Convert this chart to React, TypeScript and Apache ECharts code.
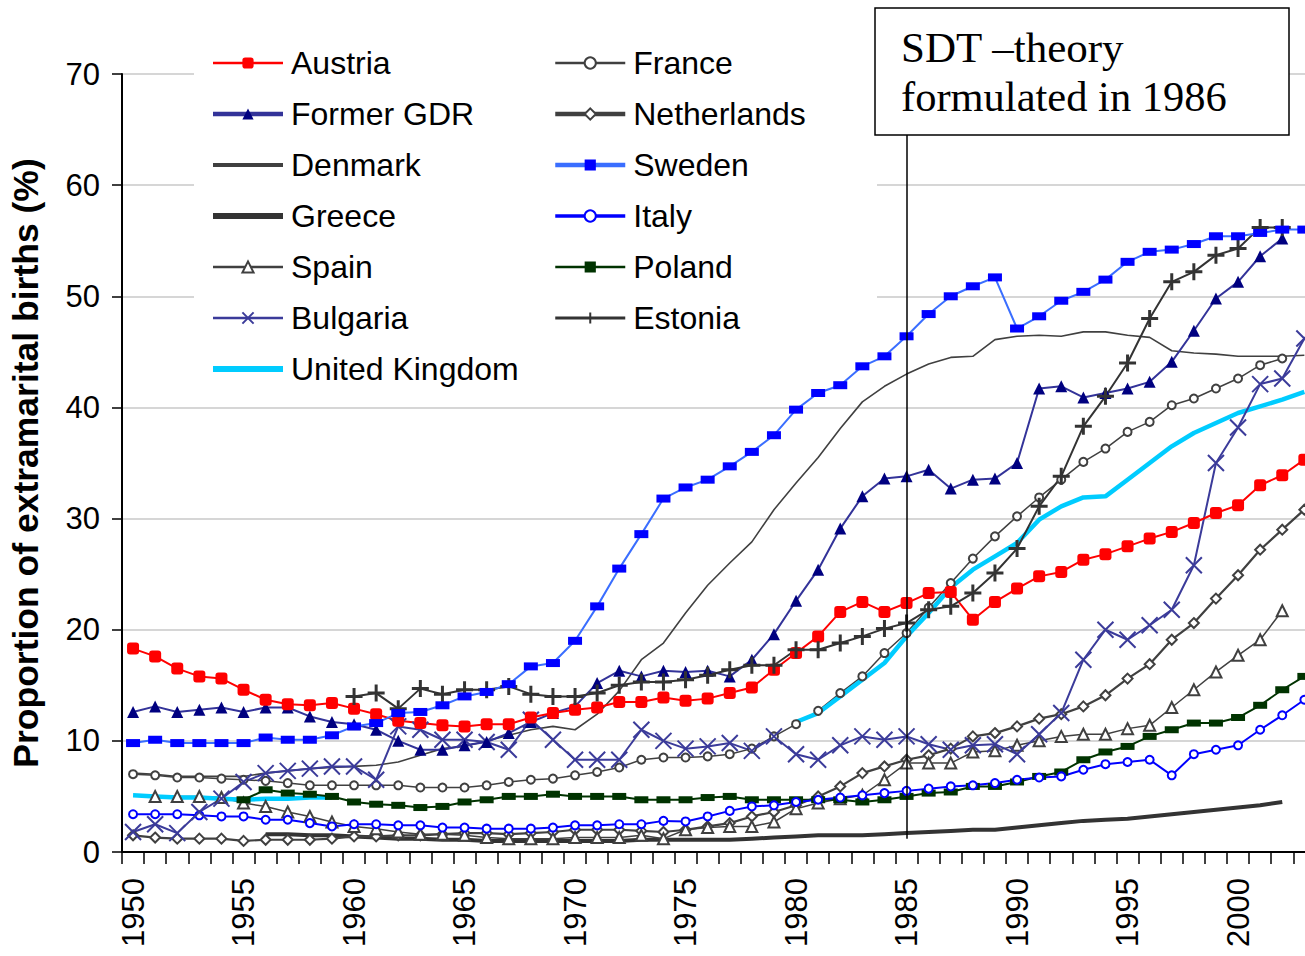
import React, { useEffect, useRef } from "react";
import * as echarts from "echarts";

const years = [
  "1950", "1951", "1952", "1953", "1954", "1955", "1956", "1957", "1958", "1959",
  "1960", "1961", "1962", "1963", "1964", "1965", "1966", "1967", "1968", "1969",
  "1970", "1971", "1972", "1973", "1974", "1975", "1976", "1977", "1978", "1979",
  "1980", "1981", "1982", "1983", "1984", "1985", "1986", "1987", "1988", "1989",
  "1990", "1991", "1992", "1993", "1994", "1995", "1996", "1997", "1998", "1999",
  "2000", "2001", "2002", "2003",
];

const austria = [
  18.3, 17.6, 16.5, 15.8, 15.6, 14.6, 13.7, 13.3, 13.2, 13.4,
  12.9, 12.4, 11.8, 11.6, 11.4, 11.3, 11.5, 11.5, 12.1, 12.5,
  12.8, 13.0, 13.5, 13.5, 13.9, 13.6, 13.8, 14.3, 14.8, 16.4,
  17.9, 19.4, 21.6, 22.5, 21.6, 22.4, 23.3, 23.4, 20.9, 22.5,
  23.7, 24.8, 25.2, 26.3, 26.8, 27.5, 28.2, 28.8, 29.6, 30.5,
  31.2, 33.0, 33.9, 35.3,
];
const formerGDR = [
  12.6, 13.1, 12.6, 12.8, 13.0, 12.6, 13.0, 13.0, 12.2, 11.7,
  11.5, 11.0, 10.0, 9.2, 9.2, 9.6, 9.9, 10.7, 11.7, 12.5,
  13.1, 15.2, 16.3, 15.8, 16.3, 16.2, 16.3, 15.8, 17.3, 19.6,
  22.6, 25.4, 29.1, 32.0, 33.6, 33.8, 34.4, 32.7, 33.5, 33.6,
  35.0, 41.7, 41.9, 40.9, 41.3, 41.7, 42.3, 44.1, 46.9, 49.8,
  51.3, 53.6, 55.2, null,
];
const denmark = [
  7.1, 7.0, 6.8, 6.8, 6.8, 6.8, 7.1, 7.3, 7.5, 7.6,
  7.7, 7.8, 8.1, 8.7, 9.3, 9.5, 10.0, 10.5, 11.0, 11.3,
  11.0, 12.4, 14.5, 17.3, 18.8, 21.5, 24.0, 26.0, 27.9, 30.8,
  33.2, 35.5, 38.1, 40.5, 41.9, 43.0, 43.9, 44.5, 44.6, 46.1,
  46.4, 46.5, 46.4, 46.8, 46.8, 46.5, 46.3, 45.1, 44.9, 44.8,
  44.6, 44.6, 44.6, 44.7,
];
const greece = [
  null, null, null, null, null, null, 1.6, 1.6, 1.5, 1.5,
  1.4, 1.3, 1.2, 1.2, 1.1, 1.1, 1.0, 1.0, 1.0, 1.0,
  1.0, 1.0, 1.0, 1.1, 1.1, 1.1, 1.1, 1.1, 1.2, 1.3,
  1.4, 1.5, 1.5, 1.5, 1.6, 1.7, 1.8, 1.9, 2.0, 2.0,
  2.2, 2.4, 2.6, 2.8, 2.9, 3.0, 3.2, 3.4, 3.6, 3.8,
  4.0, 4.2, 4.5, null,
];
const spain = [
  null, 5.0, 5.0, 5.0, 4.9, 4.4, 4.1, 3.6, 3.2, 2.7,
  2.3, 2.1, 1.8, 1.6, 1.6, 1.5, 1.3, 1.2, 1.2, 1.2,
  1.3, 1.3, 1.3, 1.5, 1.2, 2.0, 2.2, 2.3, 2.3, 2.7,
  3.9, 4.4, 4.8, 5.1, 6.5, 8.0, 8.0, 8.0, 9.0, 9.1,
  9.6, 10.0, 10.4, 10.6, 10.6, 11.1, 11.4, 13.0, 14.6, 16.2,
  17.7, 19.1, 21.7, null,
];
const bulgaria = [
  1.8, 2.5, 1.7, 3.6, 4.8, 6.3, 7.1, 7.3, 7.5, 7.7,
  7.7, 6.5, 11.3, 11.0, 10.1, 10.1, 9.9, 9.2, 11.9, 10.1,
  8.3, 8.3, 8.3, 11.0, 10.0, 9.3, 9.5, 9.8, 9.1, 10.4,
  8.8, 8.3, 9.6, 10.4, 10.1, 10.4, 9.7, 9.2, 9.6, 9.7,
  8.8, 10.6, 12.5, 17.3, 20.0, 19.1, 20.4, 21.8, 25.8, 35.0,
  38.2, 42.1, 42.6, 46.2,
];
const unitedKingdom = [
  5.1, 5.0, 4.9, 4.9, 4.8, 4.7, 4.8, 4.8, 4.9, 4.9,
  null, null, null, null, null, null, null, null, null, null,
  null, null, null, null, null, null, null, null, null, null,
  11.7, 12.5, 14.0, 15.5, 17.0, 19.4, 21.5, 23.8, 25.4, 26.6,
  27.8, 29.9, 31.1, 31.9, 32.0, 33.5, 35.0, 36.5, 37.7, 38.6,
  39.5, 40.1, 40.7, 41.4,
];
const france = [
  7.0, 6.9, 6.7, 6.7, 6.6, 6.5, 6.4, 6.2, 6.0, 6.0,
  6.0, 6.0, 6.0, 5.8, 5.8, 5.8, 6.0, 6.3, 6.5, 6.6,
  6.9, 7.2, 7.6, 8.3, 8.5, 8.5, 8.6, 8.8, 9.3, 10.4,
  11.5, 12.7, 14.3, 15.8, 17.9, 19.7, 22.0, 24.2, 26.4, 28.4,
  30.2, 31.9, 33.5, 35.1, 36.3, 37.8, 38.7, 40.2, 40.8, 41.7,
  42.6, 43.8, 44.4, null,
];
const netherlands = [
  1.5, 1.3, 1.2, 1.2, 1.2, 1.0, 1.1, 1.1, 1.1, 1.2,
  1.4, 1.4, 1.5, 1.5, 1.6, 1.7, 1.7, 1.6, 1.7, 1.8,
  2.0, 2.0, 2.0, 1.9, 1.8, 2.0, 2.3, 2.6, 3.2, 3.6,
  4.2, 5.0, 5.9, 7.1, 7.7, 8.3, 8.7, 9.3, 10.4, 10.7,
  11.3, 12.0, 12.4, 13.1, 14.1, 15.6, 16.9, 19.1, 20.6, 22.8,
  24.9, 27.2, 29.0, 30.8,
];
const sweden = [
  9.8, 10.1, 9.8, 9.8, 9.8, 9.8, 10.3, 10.1, 10.1, 10.5,
  11.3, 11.6, 12.5, 12.6, 13.2, 14.0, 14.4, 15.1, 16.7, 17.0,
  19.0, 22.1, 25.5, 28.6, 31.8, 32.8, 33.5, 34.7, 36.0, 37.5,
  39.8, 41.3, 42.0, 43.7, 44.6, 46.4, 48.4, 50.0, 50.9, 51.7,
  47.1, 48.2, 49.6, 50.4, 51.5, 53.1, 54.0, 54.2, 54.7, 55.4,
  55.4, 55.7, 56.0, 56.0,
];
const italy = [
  3.4, 3.4, 3.4, 3.3, 3.2, 3.2, 2.9, 2.9, 2.6, 2.3,
  2.5, 2.5, 2.4, 2.4, 2.2, 2.2, 2.1, 2.1, 2.1, 2.2,
  2.4, 2.4, 2.5, 2.5, 2.8, 2.75, 3.2, 3.7, 4.1, 4.2,
  4.5, 4.7, 4.9, 5.1, 5.3, 5.5, 5.7, 5.9, 6.0, 6.2,
  6.5, 6.7, 6.8, 7.4, 7.9, 8.1, 8.3, 6.9, 8.8, 9.2,
  9.6, 11.0, 12.3, 13.7,
];
const poland = [
  null, null, null, null, null, 4.7, 5.6, 5.3, 5.2, 5.0,
  4.5, 4.3, 4.2, 4.0, 4.1, 4.5, 4.7, 5.0, 5.0, 5.2,
  5.0, 5.0, 5.0, 4.7, 4.7, 4.7, 4.9, 5.0, 4.7, 4.7,
  4.7, 4.7, 4.7, 4.5, 4.7, 5.0, 5.3, 5.4, 5.9, 5.9,
  6.3, 6.8, 7.2, 8.3, 9.0, 9.5, 10.4, 11.0, 11.6, 11.6,
  12.1, 13.2, 14.6, 15.8,
];
const estonia = [
  null, null, null, null, null, null, null, null, null, null,
  14.0, 14.3, 12.9, 14.7, 14.2, 14.6, 14.6, 14.9, 14.2, 14.0,
  14.0, 14.3, 15.0, 15.3, 15.3, 15.5, 15.9, 16.4, 16.8, 16.8,
  18.2, 18.2, 18.8, 19.4, 20.1, 20.6, 21.8, 22.1, 23.3, 25.1,
  27.3, 31.1, 33.8, 38.3, 41.0, 44.0, 48.0, 51.3, 52.2, 53.7,
  54.3, 56.2, 56.2, null,
];

const legendLeft = ["Austria", "Former GDR", "Denmark", "Greece", "Spain", "Bulgaria", "United Kingdom"];
const legendRight = ["France", "Netherlands", "Sweden", "Italy", "Poland", "Estonia"];

const sdtLines = ["SDT \u2013theory", "formulated in 1986"];
const sdtYear = "1985";

const FONT = 'Arial, "Liberation Sans", Helvetica, sans-serif';
const SERIF = '"Times New Roman", "Liberation Serif", serif';
const GREY = "#404040";

const CROSS = "path://M0,0L10,10M10,0L0,10";
const PLUS = "path://M5,0L5,10M0,5L10,5";

// legend line widths and whether a marker is drawn in the legend icon
const legendLine: Record<string, { w: number; marker: boolean }> = {
  Austria: { w: 2.5, marker: true },
  "Former GDR": { w: 4.5, marker: true },
  Denmark: { w: 4, marker: false },
  Greece: { w: 6, marker: false },
  Spain: { w: 2.5, marker: true },
  Bulgaria: { w: 2.5, marker: true },
  "United Kingdom": { w: 6, marker: false },
  France: { w: 2.5, marker: true },
  Netherlands: { w: 4.5, marker: true },
  Sweden: { w: 4.5, marker: true },
  Italy: { w: 3.5, marker: true },
  Poland: { w: 2.5, marker: true },
  Estonia: { w: 3, marker: true },
};

export default function App() {
  const ref = useRef<HTMLDivElement>(null);

  useEffect(() => {
    document.documentElement.style.overflow = "hidden";
    document.body.style.overflow = "hidden";
    if (!ref.current) return;
    const chart = echarts.init(ref.current, null, { renderer: "svg" });

    const line = (
      name: string,
      data: (number | null)[],
      lineColor: string,
      width: number,
      symbol: string,
      symbolSize: number | number[],
      itemStyle: any
    ) => ({
      name,
      type: "line",
      data,
      symbol,
      symbolSize,
      showSymbol: symbol !== "none",
      showAllSymbol: true,
      connectNulls: false,
      lineStyle: { color: lineColor, width },
      itemStyle,
      emphasis: { disabled: true },
    });

    const series: any[] = [
      line("Denmark", denmark, GREY, 1.6, "none", 0, { color: GREY }),
      line("Greece", greece, "#333333", 4, "none", 0, { color: "#333333" }),
      line("Netherlands", netherlands, GREY, 2.2, "emptyDiamond", 10, { color: GREY, borderWidth: 1.5 }),
      line("France", france, GREY, 1.5, "emptyCircle", 8, { color: GREY, borderWidth: 1.5 }),
      line("Spain", spain, GREY, 1.5, "emptyTriangle", 11, { color: GREY, borderWidth: 1.5 }),
      line("United Kingdom", unitedKingdom, "#00CCFF", 4.5, "none", 0, { color: "#00CCFF" }),
      line("Poland", poland, "#003300", 2, "rect", [14, 7], { color: "#003300" }),
      line("Italy", italy, "#0000FF", 2, "emptyCircle", 8, { color: "#0000FF", borderWidth: 2.5 }),
      line("Bulgaria", bulgaria, "#3B3B9A", 2, CROSS, 16, {
        color: "transparent",
        borderColor: "#3B3B9A",
        borderWidth: 2,
      }),
      line("Former GDR", formerGDR, "#333399", 2, "triangle", 12, { color: "#000080" }),
      line("Austria", austria, "#FF0000", 2, "roundRect", 12, { color: "#FF0000" }),
      line("Estonia", estonia, "#333333", 2, PLUS, 17, {
        color: "transparent",
        borderColor: "#333333",
        borderWidth: 3,
      }),
      {
        ...line("Sweden", sweden, "#3A6EFF", 2, "rect", [14, 8], { color: "#0000FF" }),
        markLine: {
          silent: true,
          symbol: ["none", "none"],
          label: { show: false },
          lineStyle: { color: "#000", width: 1.5, type: "solid" },
          emphasis: { disabled: true },
          data: [[{ coord: [sdtYear, 1.2] }, { coord: [sdtYear, 64.6] }]],
        },
      },
    ];

    const legendItems = (names: string[]) =>
      names.map((n) => {
        const cfg = legendLine[n];
        const item: any = { name: n, lineStyle: { width: cfg.w } };
        if (!cfg.marker) item.itemStyle = { opacity: 0 };
        return item;
      });

    const legendBase = {
      orient: "vertical",
      top: 45,
      padding: 0,
      itemWidth: 70,
      itemHeight: 14,
      itemGap: 15,
      selectedMode: false,
      textStyle: {
        fontSize: 32,
        lineHeight: 36,
        color: "#000",
        fontFamily: FONT,
        padding: [0, 0, 0, 3],
      },
    };

    chart.setOption({
      animation: false,
      backgroundColor: "#fff",
      textStyle: { fontFamily: FONT },
      grid: { left: 122, top: 74, width: 1193.4, height: 778, containLabel: false },
      xAxis: {
        type: "category",
        data: years,
        boundaryGap: true,
        axisLine: { lineStyle: { color: "#000", width: 2 } },
        axisTick: { show: true, interval: 0, length: 12, lineStyle: { color: "#000", width: 1.5 } },
        axisLabel: {
          interval: 4,
          rotate: 90,
          margin: 26,
          fontSize: 31,
          color: "#000",
          fontFamily: FONT,
        },
        splitLine: { show: false },
      },
      yAxis: {
        type: "value",
        min: 0,
        max: 70,
        interval: 10,
        name: "Proportion of extramarital births (%)",
        nameLocation: "middle",
        nameGap: 78,
        nameRotate: 90,
        nameTextStyle: { fontSize: 35.5, fontWeight: "bold", color: "#000", fontFamily: FONT },
        axisLine: { show: true, lineStyle: { color: "#000", width: 2 } },
        axisTick: { show: true, length: 10, lineStyle: { color: "#000", width: 1.5 } },
        axisLabel: { margin: 22, fontSize: 31, color: "#000", fontFamily: FONT },
        splitLine: { lineStyle: { color: "#c8c8c8", width: 1.5 } },
      },
      legend: [
        { ...legendBase, left: 210, data: legendItems(legendLeft) },
        { ...legendBase, left: 553, data: legendItems(legendRight) },
      ],
      graphic: [
        {
          type: "rect",
          z: 1,
          silent: true,
          shape: { x: 194, y: 30, width: 683, height: 350 },
          style: { fill: "#fff" },
        },
        {
          type: "group",
          z: 10,
          children: [
            {
              type: "rect",
              z: 10,
              shape: { x: 875, y: 8, width: 414, height: 127 },
              style: { fill: "#fff", stroke: "#000", lineWidth: 1.5 },
            },
            {
              type: "text",
              z: 11,
              x: 901,
              y: 47,
              style: {
                text: sdtLines[0],
                fontSize: 43,
                fontFamily: SERIF,
                fill: "#000",
                verticalAlign: "middle",
                align: "left",
              },
            },
            {
              type: "text",
              z: 11,
              x: 901,
              y: 96,
              style: {
                text: sdtLines[1],
                fontSize: 42.5,
                fontFamily: SERIF,
                fill: "#000",
                verticalAlign: "middle",
                align: "left",
              },
            },
          ],
        },
      ],
      series,
    });

    return () => chart.dispose();
  }, []);

  return (
    <div
      ref={ref}
      style={{ position: "fixed", left: 0, top: 0, width: 1320, height: 956, background: "#fff" }}
    />
  );
}
